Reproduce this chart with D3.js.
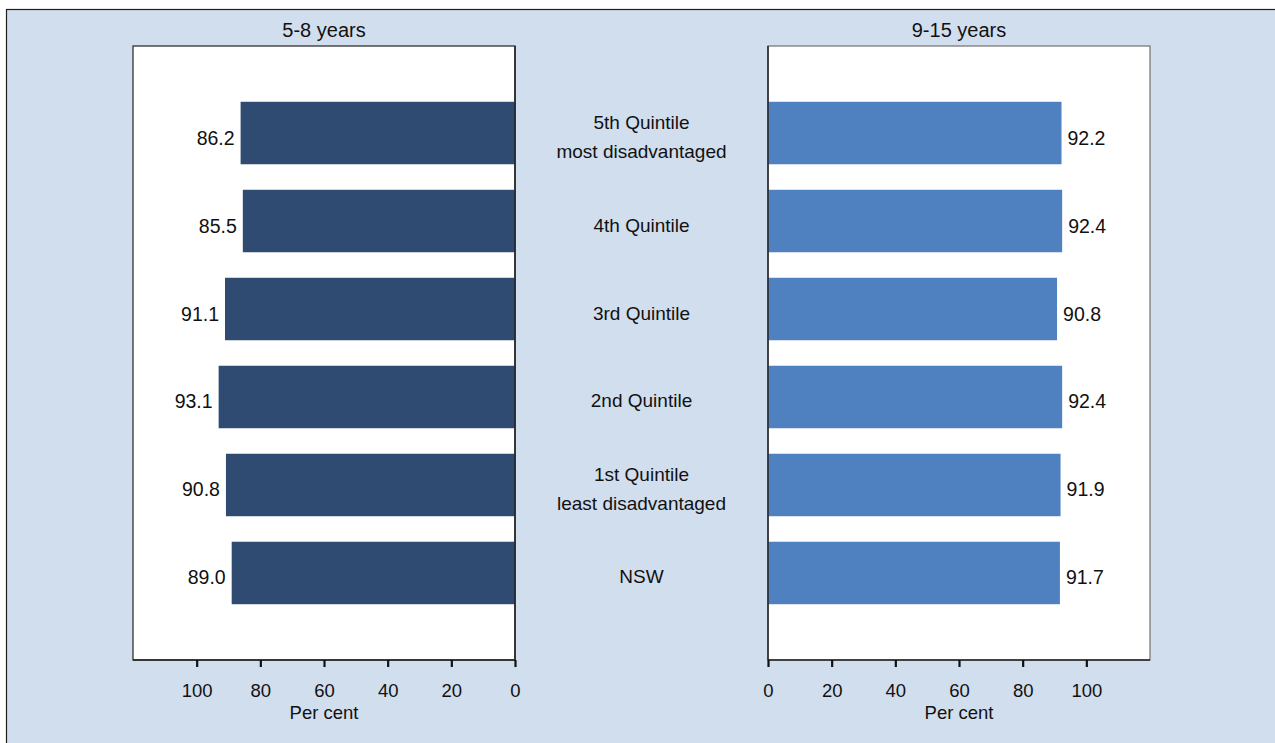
<!DOCTYPE html>
<html>
<head>
<meta charset="utf-8">
<script src="https://cdn.jsdelivr.net/npm/d3@7"></script>
<style>
  html, body { margin: 0; padding: 0; background: #ffffff; }
  svg { display: block; font-family: "Liberation Sans", Arial, sans-serif; }
</style>
</head>
<body>
<svg id="chart" width="1275" height="743"></svg>
<script>
// ---- data ----
const categories = ["5th Quintile\nmost disadvantaged", "4th Quintile", "3rd Quintile", "2nd Quintile", "1st Quintile\nleast disadvantaged", "NSW"];
const values5to8 = [86.2, 85.5, 91.1, 93.1, 90.8, 89.0];
const values9to15 = [92.2, 92.4, 90.8, 92.4, 91.9, 91.7];
const panelTitles = ["5-8 years", "9-15 years"];
const tickValues = [0, 20, 40, 60, 80, 100];
const axisLabel = "Per cent";

(function () {
const svg = d3.select("#chart");
const bgFill = "#d1deee";
const darkBar = "#2f4b72";
const lightBar = "#4f80bf";

// outer frame
svg.append("rect").attr("x", 6.5).attr("y", 9.5).attr("width", 1300).attr("height", 800)
  .attr("fill", bgFill).attr("stroke", "#1f1f1f").attr("stroke-width", 1.2);

const plotTop = 46, plotBottom = 660;
const y = d3.scaleBand().domain(categories).range([plotTop, plotBottom]).paddingInner(0.29).paddingOuter(0.634);
const xL = d3.scaleLinear().domain([0, 120]).range([515, 133]);
const xR = d3.scaleLinear().domain([0, 120]).range([768, 1150]);

function panel(x, values, color, title, side) {
  const g = svg.append("g");
  const x0 = x(0), x1 = x(120);
  const left = Math.min(x0, x1), right = Math.max(x0, x1);
  g.append("rect").attr("x", left).attr("y", plotTop).attr("width", right - left).attr("height", plotBottom - plotTop)
    .attr("fill", "#ffffff").attr("stroke", side === "left" ? "#333" : "#7a7a7a").attr("stroke-width", 1.3);
  // bars
  g.selectAll("rect.bar").data(values).join("rect").attr("class", "bar")
    .attr("x", d => Math.min(x(d), x0)).attr("width", d => Math.abs(x(d) - x0))
    .attr("y", (d, i) => y(categories[i])).attr("height", y.bandwidth())
    .attr("fill", color);
  // zero axis line and bottom line
  g.append("line").attr("x1", x0).attr("x2", x0).attr("y1", plotTop).attr("y2", plotBottom)
    .attr("stroke", "#222").attr("stroke-width", 1.5);
  g.append("line").attr("x1", left).attr("x2", right).attr("y1", plotBottom).attr("y2", plotBottom)
    .attr("stroke", "#222").attr("stroke-width", 1.3);
  // value labels
  g.selectAll("text.val").data(values).join("text").attr("class", "val")
    .attr("x", d => side === "left" ? x(d) - 6 : x(d) + 6)
    .attr("y", (d, i) => y(categories[i]) + y.bandwidth() / 2 + 4.5)
    .attr("dominant-baseline", "central")
    .attr("text-anchor", side === "left" ? "end" : "start")
    .attr("font-size", "19.5px").attr("fill", "#111")
    .text(d => d.toFixed(1));
  // axis
  const axis = d3.axisBottom(x).tickValues(tickValues).tickSize(7).tickPadding(17).tickFormat(d3.format("d"));
  const ag = g.append("g").attr("transform", `translate(0,${plotBottom})`).call(axis);
  ag.select(".domain").remove();
  ag.selectAll(".tick line").attr("stroke", "#111").attr("stroke-width", 2.2);
  ag.selectAll(".tick text").attr("font-size", "18.5px").attr("fill", "#111")
    .attr("font-family", "Liberation Sans, Arial, sans-serif");
  // axis title
  g.append("text").attr("x", x(60)).attr("y", 719).attr("text-anchor", "middle")
    .attr("font-size", "18.5px").attr("fill", "#111").text(axisLabel);
  // panel title
  g.append("text").attr("x", (left + right) / 2).attr("y", 30).attr("dominant-baseline", "central")
    .attr("text-anchor", "middle").attr("font-size", "20px").attr("fill", "#111").text(title);
}

panel(xL, values5to8, darkBar, panelTitles[0], "left");
panel(xR, values9to15, lightBar, panelTitles[1], "right");

// category labels in the middle
const midX = (xL(0) + xR(0)) / 2;
const lab = svg.append("g");
categories.forEach(c => {
  const lines = c.split("\n");
  const cy = y(c) + y.bandwidth() / 2 + 4;
  const spacing = 28.7;
  lines.forEach((ln, j) => {
    lab.append("text").attr("x", midX)
      .attr("y", cy + (j - (lines.length - 1) / 2) * spacing)
      .attr("dominant-baseline", "central").attr("text-anchor", "middle")
      .attr("font-size", "19px").attr("fill", "#111").text(ln);
  });
});
})();
</script>
</body>
</html>
